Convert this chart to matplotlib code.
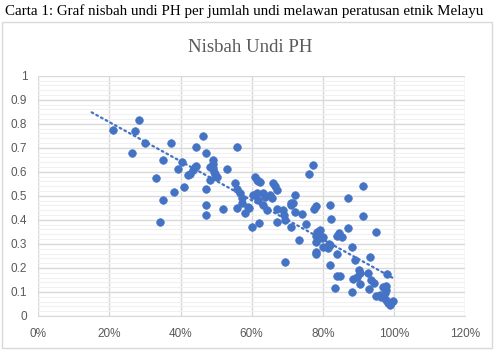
# Carta 1: nisbah undi PH melawan peratusan etnik Melayu
import numpy as np
import matplotlib
matplotlib.use("Agg")
from matplotlib import pyplot as plt
from matplotlib.patches import Rectangle
from matplotlib.ticker import MultipleLocator, PercentFormatter

# peratusan etnik Melayu (pecahan)
melayu = [
    0.211, 0.263, 0.272, 0.284, 0.301, 0.373, 0.332, 0.352, 0.352, 0.342,
    0.382, 0.394, 0.403, 0.410, 0.422, 0.428, 0.434, 0.440, 0.443, 0.443,
    0.463, 0.471, 0.471, 0.471, 0.471, 0.483, 0.492, 0.492, 0.490, 0.483,
    0.497, 0.503, 0.494, 0.532, 0.520, 0.553, 0.560, 0.560, 0.560, 0.572,
    0.574, 0.581, 0.590, 0.567,
    0.604, 0.609, 0.614, 0.618, 0.623, 0.614, 0.618, 0.631, 0.637, 0.651,
    0.656, 0.632, 0.644, 0.593, 0.661, 0.665, 0.670, 0.672, 0.689, 0.691,
    0.693, 0.712, 0.717, 0.710, 0.721, 0.723, 0.743, 0.761, 0.773, 0.776,
    0.782, 0.820, 0.822, 0.871, 0.871, 0.601, 0.621, 0.670, 0.712, 0.752,
    0.732, 0.693,
    0.784, 0.792, 0.781, 0.787, 0.799, 0.801, 0.840, 0.846, 0.818, 0.801,
    0.815, 0.820, 0.781, 0.782, 0.782, 0.841, 0.820, 0.841, 0.834,
    0.912, 0.912, 0.951, 0.853, 0.883, 0.890, 0.932, 0.848,
    0.902, 0.906, 0.897, 0.885, 0.928, 0.937, 0.943, 0.904, 0.883, 0.930,
    0.982, 0.970, 0.979, 0.979, 0.974, 0.960, 0.951, 0.965, 0.979, 0.984,
    0.993, 0.998, 0.988,
]
# nisbah undi PH per jumlah undi
nisbah = [
    0.772, 0.679, 0.768, 0.815, 0.718, 0.718, 0.573, 0.649, 0.482, 0.391,
    0.516, 0.610, 0.640, 0.538, 0.585, 0.589, 0.607, 0.621, 0.624, 0.704,
    0.751, 0.679, 0.527, 0.460, 0.421, 0.565, 0.649, 0.632, 0.614, 0.618,
    0.593, 0.579, 0.600, 0.610, 0.444, 0.554, 0.704, 0.527, 0.449, 0.489,
    0.471, 0.427, 0.452, 0.510,
    0.503, 0.579, 0.565, 0.563, 0.556, 0.510, 0.482, 0.513, 0.496, 0.503,
    0.489, 0.462, 0.441, 0.448, 0.554, 0.541, 0.524, 0.444, 0.441, 0.420,
    0.399, 0.462, 0.469, 0.469, 0.434, 0.503, 0.423, 0.593, 0.628, 0.444,
    0.457, 0.462, 0.403, 0.489, 0.365, 0.371, 0.385, 0.392, 0.371, 0.383,
    0.316, 0.226,
    0.351, 0.358, 0.333, 0.323, 0.323, 0.330, 0.333, 0.344, 0.299, 0.288,
    0.281, 0.295, 0.309, 0.267, 0.260, 0.260, 0.212, 0.166, 0.118,
    0.542, 0.417, 0.351, 0.330, 0.288, 0.233, 0.247, 0.166,
    0.191, 0.178, 0.163, 0.153, 0.178, 0.150, 0.136, 0.132, 0.101, 0.111,
    0.175, 0.122, 0.125, 0.108, 0.094, 0.087, 0.083, 0.080, 0.067, 0.053,
    0.055, 0.062, 0.046,
]

# julat garis trend (linear, ramalan ke belakang)
TREND_FROM = 0.15
TREND_TO = 1.0

BLUE = "#4472C4"
GREY_TEXT = "#595959"
GRID = "#d9d9d9"
MINOR = "#f0f0f0"

plt.rcParams["font.family"] = ["Liberation Sans", "DejaVu Sans"]

fig = plt.figure(figsize=(5.0, 3.52), dpi=100)

# bingkai carta
fig.patches.append(Rectangle((2 / 500, 1 - 348 / 352), 490 / 500, 326 / 352,
                             transform=fig.transFigure, fill=False,
                             edgecolor=GRID, linewidth=1.0))

fig.text(5 / 500, 1 - 11 / 352,
         "Carta 1: Graf nisbah undi PH per jumlah undi melawan peratusan etnik Melayu",
         family=["Liberation Serif", "DejaVu Serif"], fontsize=10.85,
         color="black", ha="left", va="center")
fig.text(250 / 500, 1 - 47 / 352, "Nisbah Undi PH",
         family=["Liberation Serif", "DejaVu Serif"], fontsize=13.5,
         color=GREY_TEXT, ha="center", va="center")

ax = fig.add_axes([38.3 / 500, 1 - 316 / 352, (465 - 38.3) / 500, (316 - 75.7) / 352])

x = np.array(melayu)
y = np.array(nisbah)
ax.scatter(x, y, s=30, color=BLUE, edgecolors=BLUE, linewidths=0.5, zorder=3)

# garis trend linear
k, c = np.polyfit(x, y, 1)
tx = np.array([TREND_FROM, TREND_TO])
ax.plot(tx, k * tx + c, color=BLUE, linewidth=1.6,
        linestyle=(0, (0.8, 1.6)), dash_capstyle="round", zorder=4)

ax.set_xlim(0, 1.2)
ax.set_ylim(0, 1.0)
ax.xaxis.set_major_locator(MultipleLocator(0.2))
ax.xaxis.set_major_formatter(PercentFormatter(1.0, decimals=0))
ax.yaxis.set_minor_locator(MultipleLocator(0.02))
ax.set_yticks(np.arange(0, 1.01, 0.1))
ax.set_yticklabels(["0", "0.1", "0.2", "0.3", "0.4", "0.5", "0.6", "0.7", "0.8", "0.9", "1"])

ax.grid(True, which="major", color=GRID, linewidth=1.0, zorder=0)
ax.grid(True, which="minor", axis="y", color=MINOR, linewidth=0.8, zorder=0)
ax.set_axisbelow(True)
for s in ["top", "right", "left"]:
    ax.spines[s].set_visible(False)
ax.spines["bottom"].set_color(GRID)
ax.tick_params(which="both", length=0, colors=GREY_TEXT, labelsize=8.5)
ax.tick_params(axis="y", pad=8)
ax.tick_params(axis="x", pad=8.5)

fig.savefig("out.png", dpi=100)
